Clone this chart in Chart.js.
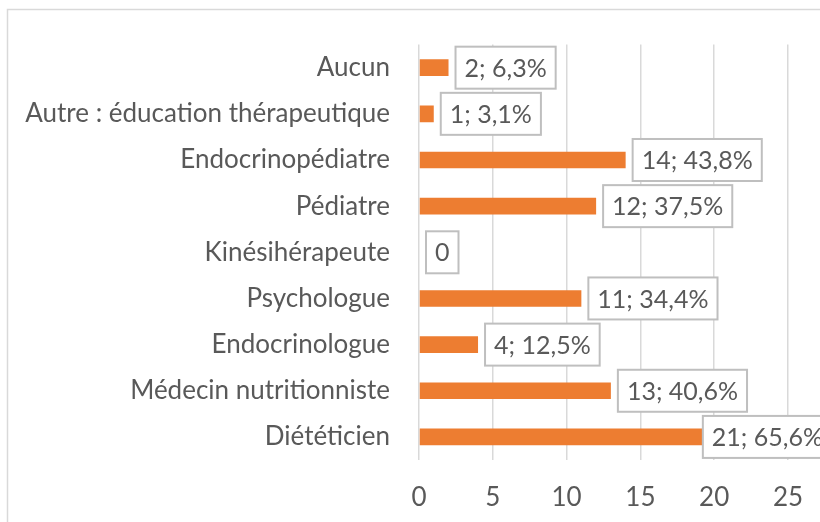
<!DOCTYPE html>
<html>
<head>
<meta charset="utf-8">
<script src="https://cdn.jsdelivr.net/npm/chart.js@4"></script>
<style>
  html, body { margin: 0; padding: 0; background: #ffffff; }
  #wrap { width: 820px; height: 522px; }
</style>
</head>
<body>
<div id="wrap"><canvas id="graphique"></canvas></div>
<script>
// Données
const categories = ['Aucun', 'Autre : éducation thérapeutique', 'Endocrinopédiatre', 'Pédiatre',
    'Kinésihérapeute', 'Psychologue', 'Endocrinologue', 'Médecin nutritionniste', 'Diététicien'];
const effectifs = [2, 1, 14, 12, 0, 11, 4, 13, 21];
const pourcentages = [6.3, 3.1, 43.8, 37.5, 0, 34.4, 12.5, 40.6, 65.6];
const graduations = [0, 5, 10, 15, 20, 25];

const police = 'Lato, "Liberation Sans", sans-serif';
const gris = '#595959';

// Cadre du graphique (bords haut et gauche)
const cadre = {
    id: 'cadre',
    beforeDraw(chart) {
        const ctx = chart.ctx;
        ctx.save();
        ctx.strokeStyle = '#D9D9D9';
        ctx.lineWidth = 1.5;
        ctx.beginPath();
        ctx.moveTo(7.5, chart.height);
        ctx.lineTo(7.5, 9.5);
        ctx.lineTo(chart.width, 9.5);
        ctx.stroke();
        ctx.restore();
    }
};

// Étiquettes de données encadrées (gardées dans le cadre, qui dépasse un peu à droite)
const etiquettes = {
    id: 'etiquettes',
    afterDatasetsDraw(chart) {
        const ctx = chart.ctx;
        const meta = chart.getDatasetMeta(0);
        const bordDroit = chart.width + 12;
        ctx.save();
        ctx.font = '25px ' + police;
        ctx.textBaseline = 'middle';
        meta.data.forEach(function (barre, i) {
            const v = effectifs[i];
            const texte = v === 0 ? '0' : v + '; ' + pourcentages[i].toFixed(1).replace('.', ',') + '%';
            const largeur = ctx.measureText(texte).width + 18;
            const hauteur = 42;
            const x = Math.min(barre.x + 7, bordDroit - largeur);
            const y = barre.y - hauteur / 2;
            ctx.fillStyle = '#ffffff';
            ctx.fillRect(x, y, largeur, hauteur);
            ctx.strokeStyle = '#BFBFBF';
            ctx.lineWidth = 2;
            ctx.strokeRect(x, y, largeur, hauteur);
            ctx.fillStyle = gris;
            ctx.fillText(texte, x + 9, barre.y + 1);
        });
        ctx.restore();
    }
};

const ctx = document.getElementById('graphique').getContext('2d');
new Chart(ctx, {
    type: 'bar',
    data: {
        labels: categories,
        datasets: [{
            data: effectifs,
            backgroundColor: '#ED7D31',
            borderWidth: 0,
            barPercentage: 0.9,
            categoryPercentage: 0.4
        }]
    },
    options: {
        indexAxis: 'y',
        responsive: true,
        maintainAspectRatio: false,
        animation: false,
        layout: { padding: { left: 8, top: 39, right: 32, bottom: 0 } },
        plugins: {
            legend: { display: false },
            tooltip: { enabled: false }
        },
        scales: {
            x: {
                min: 0,
                max: 25,
                afterBuildTicks(scale) {
                    scale.ticks = graduations.map(v => ({ value: v }));
                },
                afterFit(scale) {
                    scale.height = 62;
                    scale.paddingLeft = 0;
                    scale.paddingRight = 0;
                },
                grid: { color: '#D9D9D9', lineWidth: 1.5, drawTicks: false },
                border: { display: false },
                ticks: { color: gris, font: { family: police, size: 26 }, padding: 22 }
            },
            y: {
                afterFit(scale) { scale.width = 411; },
                grid: { display: false, drawTicks: false },
                border: { display: false },
                ticks: { color: gris, font: { family: police, size: 26 }, padding: 29 }
            }
        }
    },
    plugins: [cadre, etiquettes]
});
</script>
</body>
</html>
